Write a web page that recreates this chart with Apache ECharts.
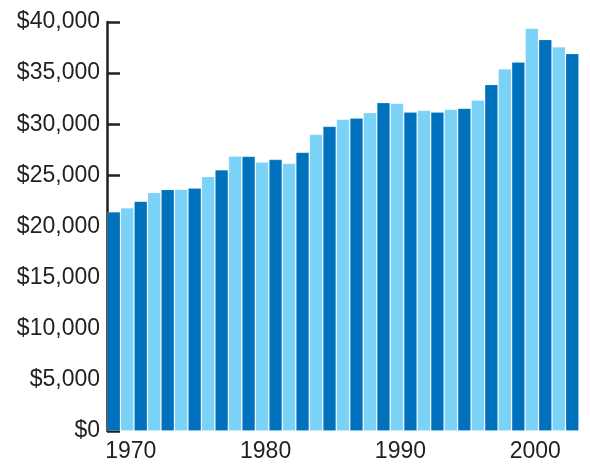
<!DOCTYPE html>
<html>
<head>
<meta charset="utf-8">
<title>Income</title>
<script src="https://cdn.jsdelivr.net/npm/echarts@6/dist/echarts.min.js"></script>
<style>
  html, body { margin: 0; padding: 0; background: #fff; }
  #main { width: 590px; height: 464px; }
</style>
</head>
<body>
<div id="main"></div>
<script>
// years shown as bars, 1969 - 2003
var years = [];
for (var y = 1969; y <= 2003; y++) years.push(String(y));

// values (dollars)
var values = [
  21440, 21830, 22480, 23330, 23630, 23650, 23760, 24900, 25560, 26890,
  26860, 26300, 26570, 26180, 27270, 29020, 29800, 30490, 30620, 31150,
  32120, 32060, 31210, 31370, 31210, 31470, 31570, 32380, 33890, 35420,
  36080, 39380, 38300, 37580, 36930
];

var barColors = ['#0071BD', '#7AD2F6'];
var yTicks = { min: 0, max: 40000, step: 5000 };

var textColor = '#231F20';

var chart = echarts.init(document.getElementById('main'), null, { renderer: 'canvas' });

var option = {
  animation: false,
  grid: { left: 107, right: 11, top: 22, bottom: 33 },
  xAxis: {
    type: 'category',
    data: years,
    axisLine: { show: false },
    axisTick: { show: false },
    axisLabel: {
      interval: function (idx, val) { return Number(val) % 10 === 0; },
      color: textColor,
      fontFamily: 'Liberation Sans',
      fontSize: 23,
      margin: 9,
      padding: [0, 0, 0, 7]
    }
  },
  yAxis: {
    type: 'value',
    min: yTicks.min,
    max: yTicks.max,
    interval: yTicks.step,
    splitLine: { show: false },
    axisLine: { show: true, lineStyle: { color: textColor, width: 2.5 } },
    axisTick: { show: true, inside: true, length: 13, lineStyle: { color: textColor, width: 2.5 } },
    axisLabel: {
      color: textColor,
      fontFamily: 'Liberation Sans',
      fontSize: 23,
      margin: 7,
      formatter: function (v) {
        return '$' + v.toString().replace(/\B(?=(\d{3})+(?!\d))/g, ',');
      }
    }
  },
  series: [{
    type: 'bar',
    data: values,
    barCategoryGap: '0%',
    itemStyle: {
      color: function (p) { return barColors[p.dataIndex % 2]; },
      borderColor: 'rgba(255,255,255,0.18)',
      borderWidth: 1
    }
  }]
};

chart.setOption(option);
</script>
</body>
</html>
